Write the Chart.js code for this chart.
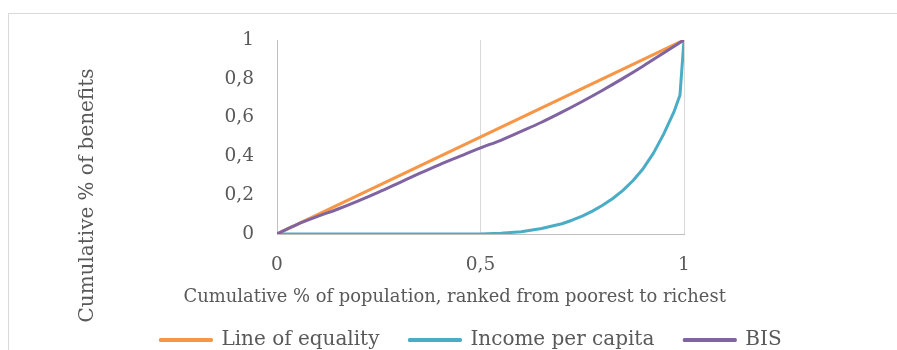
<!DOCTYPE html>
<html><head><meta charset="utf-8">
<script src="https://cdn.jsdelivr.net/npm/chart.js@4/dist/chart.umd.min.js"></script>
<style>
html,body{margin:0;padding:0;width:897px;height:350px;overflow:hidden;background:#fff;}
#frame{position:absolute;left:8px;top:13px;width:1000px;height:1000px;border:1px solid #d9d9d9;box-sizing:border-box;}
#wrap{position:absolute;left:0;top:0;width:897px;height:360px;}
</style></head><body>
<div id="frame"></div>
<div id="wrap"><canvas id="c"></canvas></div>
<script>
// ---- data ----
const seriesNames = ['Line of equality', 'Income per capita', 'BIS'];
const equalityPop = [0, 1];
const equalityShare = [0, 1];
const bisPop = [0, 0.05, 0.1, 0.15, 0.2, 0.25, 0.3, 0.35, 0.4, 0.45, 0.5, 0.55, 0.6, 0.65, 0.7, 0.75, 0.8, 0.85, 0.9, 0.95, 1];
const bisShare = [0, 0.05, 0.091, 0.129, 0.171, 0.216, 0.264, 0.312, 0.358, 0.401, 0.444, 0.483, 0.529, 0.576, 0.628, 0.683, 0.741, 0.802, 0.866, 0.933, 1];
const incomePop = [0, 0.1, 0.2, 0.3, 0.4, 0.5, 0.55, 0.6, 0.65, 0.7, 0.725, 0.75, 0.775, 0.8, 0.825, 0.85, 0.875, 0.9, 0.925, 0.95, 0.975, 0.99, 1];
const incomeShare = [0, 0, 0, 0, 0, 0, 0.004, 0.012, 0.028, 0.053, 0.071, 0.092, 0.118, 0.148, 0.183, 0.225, 0.276, 0.338, 0.417, 0.515, 0.628, 0.715, 1];
const xTickValues = [0, 0.5, 1];
const yTickValues = [0, 0.2, 0.4, 0.6, 0.8, 1];
const xTitle = 'Cumulative % of population, ranked from poorest to richest';
const yTitle = 'Cumulative % of benefits';
const colors = ['#F79646', '#4BACC6', '#8064A2'];

// ---- fonts ----
const FAMILY = '"DejaVu Serif", serif';
const mctx = document.createElement('canvas').getContext('2d');
function fitSize(text, target) {
  mctx.font = '20px ' + FAMILY;
  return 20 * target / mctx.measureText(text).width;
}
const tickSize = fitSize('0,8', 29.5);
const xTitleSize = fitSize(xTitle, 543);
const yTitleSize = fitSize(yTitle, 254);
const legendSize = fitSize('Income per capita', 184);
const TEXT = '#595959';

function pts(xs, ys) { return xs.map((x, i) => ({x: x, y: ys[i]})); }
const fmt = v => (Math.round(v * 10) / 10).toString().replace('.', ',');

const titlesPlugin = {
  id: 'titles',
  afterDraw(chart) {
    const ctx = chart.ctx;
    ctx.save();
    ctx.fillStyle = TEXT;
    ctx.textAlign = 'center';
    ctx.textBaseline = 'alphabetic';
    ctx.font = xTitleSize + 'px ' + FAMILY;
    ctx.fillText(xTitle, 454.7, 301.5);
    ctx.font = yTitleSize + 'px ' + FAMILY;
    ctx.translate(93, 195.5);
    ctx.rotate(-Math.PI / 2);
    ctx.fillText(yTitle, 0, 0);
    ctx.restore();
  }
};

const common = {showLine: true, pointRadius: 0, pointHoverRadius: 0, borderWidth: 3, borderJoinStyle: 'round', borderCapStyle: 'round', fill: false};

new Chart(document.getElementById('c'), {
  type: 'scatter',
  data: {
    datasets: [
      Object.assign({label: seriesNames[0], data: pts(equalityPop, equalityShare), borderColor: colors[0], backgroundColor: colors[0], order: 3}, common),
      Object.assign({label: seriesNames[1], data: pts(incomePop, incomeShare), borderColor: colors[1], backgroundColor: colors[1], order: 2, tension: 0}, common),
      Object.assign({label: seriesNames[2], data: pts(bisPop, bisShare), borderColor: colors[2], backgroundColor: colors[2], order: 1, cubicInterpolationMode: 'monotone'}, common)
    ]
  },
  options: {
    responsive: true,
    maintainAspectRatio: false,
    animation: false,
    devicePixelRatio: 1,
    layout: {padding: {left: 45, right: 0, top: 40, bottom: 0}},
    plugins: {
      tooltip: {enabled: false},
      legend: {
        display: true,
        position: 'bottom',
        labels: {
          color: TEXT,
          font: {family: FAMILY, size: legendSize},
          boxWidth: 51,
          boxHeight: 1,
          padding: 30,
          sort: (a, b) => a.datasetIndex - b.datasetIndex
        }
      }
    },
    scales: {
      x: {
        type: 'linear', position: 'bottom', min: 0, max: 1,
        afterBuildTicks: s => { s.ticks = xTickValues.map(v => ({value: v})); },
        ticks: {color: TEXT, font: {family: FAMILY, size: tickSize}, padding: 20, callback: fmt, maxRotation: 0},
        grid: {display: true, color: '#d9d9d9', lineWidth: 1, drawTicks: false},
        border: {display: true, color: '#bfbfbf', width: 1},
        afterFit: s => { s.height = 66; }
      },
      y: {
        type: 'linear', position: 'left', min: 0, max: 1,
        afterBuildTicks: s => { s.ticks = yTickValues.map(v => ({value: v})); },
        ticks: {color: TEXT, font: {family: FAMILY, size: tickSize}, padding: 23, callback: fmt},
        grid: {display: false, drawTicks: false},
        border: {display: true, color: '#bfbfbf', width: 1},
        afterFit: s => { s.width = 232; }
      },
      y2: {
        type: 'linear', position: 'right', min: 0, max: 1, display: true,
        ticks: {display: false},
        grid: {display: false, drawTicks: false},
        border: {display: false},
        afterFit: s => { s.width = 213; }
      }
    }
  },
  plugins: [titlesPlugin]
});
</script>
</body></html>
